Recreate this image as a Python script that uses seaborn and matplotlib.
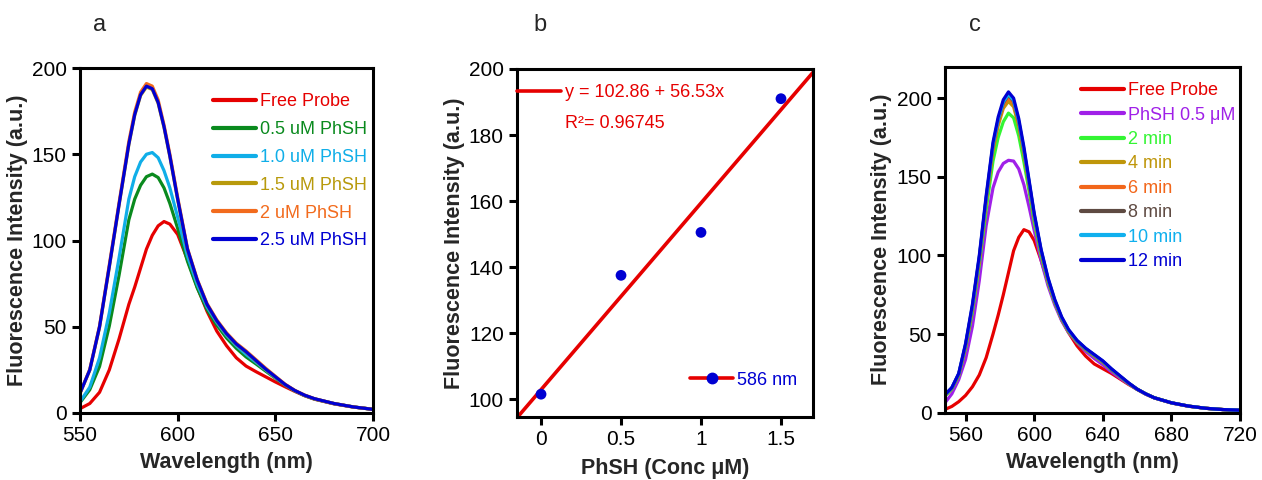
import matplotlib
matplotlib.use("Agg")
import matplotlib.pyplot as plt
import numpy as np
import pandas as pd
import seaborn as sns
from matplotlib.lines import Line2D
from matplotlib.legend_handler import HandlerTuple

# ---------------- data ----------------
# (a) emission spectra vs. PhSH concentration
wl_a = [550, 555, 560, 565, 570, 575, 578, 581, 584, 587, 590, 593, 596, 600, 605,
        610, 615, 620, 625, 630, 635, 640, 645, 650, 655, 660, 665, 670, 680, 690, 700]
free_a = [2.5, 5.5, 12, 25, 43, 63, 73, 84, 95, 103, 108.5, 111, 109.5, 103.5, 89,
          73, 59, 47.5, 39, 32, 27.2, 24, 21, 18, 15.2, 12.5, 10, 8, 5.3, 3.4, 2.2]
c05_a = [6, 13.5, 27, 50.5, 80, 112, 124, 132, 137, 138.5, 136.5, 130.5, 121.5, 107, 88,
         72.5, 60, 51, 43.5, 37.5, 32.5, 28.5, 24.3, 20.2, 16.2, 12.8, 10.1, 8.1, 5.4, 3.5, 2.1]
c10_a = [6.5, 15, 32, 58, 90, 124, 137, 145.5, 150, 151, 148, 140.5, 130.5, 113.5, 91,
         74.5, 61.5, 52.5, 45, 39, 34, 29.5, 25, 20.5, 16.3, 12.9, 10.2, 8.2, 5.5, 3.5, 2.1]
c15_a = [11.4, 24.8, 49.6, 84.5, 120.5, 155.5, 172.5, 184, 189, 187.5, 179.5, 165.5, 148.5, 123.5, 94.5,
         76.8, 62.8, 53.3, 45.8, 39.8, 35.3, 30.3, 25.3, 20.8, 16.4, 12.9, 10.2, 8.2, 5.5, 3.5, 2.1]
c20_a = [11.6, 25.3, 50.5, 86, 122, 157.5, 174.5, 186, 191, 189.5, 181.5, 167, 150, 125, 95.5,
         77.5, 63.5, 54, 46.5, 40.5, 36, 31, 26, 21.3, 16.7, 13.1, 10.4, 8.3, 5.5, 3.5, 2.1]
c25_a = [11.5, 25, 50, 85, 121, 156, 173, 184.5, 189.5, 188, 180, 166, 149, 124, 95,
         77, 63, 53.5, 46, 40, 35.5, 30.5, 25.5, 21, 16.5, 13, 10.3, 8.3, 5.5, 3.5, 2.1]
labels_a = ["Free Probe", "0.5 uM PhSH", "1.0 uM PhSH", "1.5 uM PhSH", "2 uM PhSH", "2.5 uM PhSH"]
colors_a = ["#e60000", "#0a8a1e", "#10aee8", "#b89a0c", "#f26b1d", "#0000d2"]

# (b) intensity at 586 nm vs. PhSH concentration, with linear fit
conc_b = [0, 0.5, 1.0, 1.5]
inten_b = [101.5, 137.5, 150.5, 191.0]
fit_intercept = 102.86
fit_slope = 56.53
fit_r2 = 0.96745

# (c) emission spectra vs. time after 0.5 uM PhSH
wl_c = [548, 552, 556, 560, 564, 568, 572, 576, 579, 582, 585, 588, 591, 594, 597, 600,
        604, 608, 612, 616, 620, 625, 630, 635, 640, 645, 650, 655, 660, 665, 670, 680,
        690, 700, 710, 720]
free_c = [2.1, 4, 7, 11, 16.5, 24, 35, 50, 62, 75, 89, 103, 111.5, 116.4, 115, 109.5,
          97, 83, 70, 59, 51, 42.5, 36, 31, 28, 25, 21.5, 18, 14.8, 11.8, 9.4, 6.2,
          4.1, 2.8, 2.0, 1.6]
phsh_c = [6.3, 12, 21, 34, 55, 84, 119, 143, 153, 158.5, 160.5, 160, 155, 145, 131, 116,
          97, 81, 68.5, 58.5, 51, 44.5, 39, 34.5, 30.5, 26, 22, 18.3, 14.8, 11.8, 9.4, 6.2,
          4.1, 2.8, 2.0, 1.6]
t2_c = [10.5, 15, 23.5, 41, 64, 94, 129, 160, 175, 185, 190.5, 187.5, 176, 159.5, 141, 121,
        100, 83, 70, 59.5, 51.5, 45, 40, 36, 32, 27.2, 22.9, 18.6, 14.9, 12, 9.5, 6.3,
        4.2, 2.8, 2.0, 1.6]
t4_c = [11, 15.3, 24, 42, 66, 96.5, 133.5, 166.5, 182.5, 193.5, 198, 194.5, 182, 164.5, 144.5, 124,
        102, 84, 70.5, 59.8, 51.8, 45.3, 40.3, 36.3, 32.3, 27.4, 23, 18.7, 15, 12, 9.5, 6.3,
        4.2, 2.8, 2.0, 1.6]
t6_c = [11.1, 15.5, 24.2, 42.5, 67, 97.5, 135, 168.5, 184.5, 195.5, 200.5, 196.5, 184, 166, 145.5, 125,
        102.5, 84.5, 70.8, 60, 52, 45.5, 40.5, 36.5, 32.5, 27.5, 23.1, 18.8, 15, 12, 9.5, 6.3,
        4.2, 2.8, 2.0, 1.6]
t8_c = [11.2, 15.7, 24.5, 43, 67.5, 98.5, 136, 170, 186, 197, 202, 198, 185, 167, 146.5, 125.5,
        103, 85, 71, 60.3, 52.3, 45.6, 40.6, 36.6, 32.6, 27.6, 23.2, 18.8, 15, 12, 9.5, 6.3,
        4.2, 2.8, 2.0, 1.6]
t10_c = [11.3, 15.8, 24.7, 43.5, 68, 99, 136.5, 170.5, 186.5, 197.5, 202.5, 198.5, 185.5, 167.5, 147, 126,
         103.5, 85.5, 71.5, 60.5, 52.5, 45.8, 40.8, 36.8, 32.8, 27.8, 23.3, 18.9, 15, 12, 9.5, 6.3,
         4.2, 2.8, 2.0, 1.6]
t12_c = [11.5, 16, 25, 44, 69, 100, 138, 172, 188, 199, 204, 200, 187, 169, 148, 127,
         104, 86, 72, 61, 53, 46, 41, 37, 33, 28, 23.5, 19, 15, 12, 9.5, 6.3,
         4.2, 2.8, 2.0, 1.6]
labels_c = ["Free Probe", "PhSH 0.5 \u03bcM", "2 min", "4 min", "6 min", "8 min", "10 min", "12 min"]
colors_c = ["#e60000", "#a020e8", "#33f533", "#bf960a", "#f2661a", "#5e4a42", "#10b0ee", "#0000d2"]

# ---------------- style ----------------
sns.set_theme(style="ticks")
plt.rcParams["font.family"] = ["Liberation Sans", "DejaVu Sans"]
plt.rcParams["axes.linewidth"] = 2.2

TICK_FS = 15
LABEL_FS = 15.5
LEG_FS = 13
LW = 2.3


def long_frame(x, series, labels):
    rows = []
    for vals, lab in zip(series, labels):
        rows.append(pd.DataFrame({"x": x, "y": vals, "series": lab}))
    return pd.concat(rows, ignore_index=True)


def style_axes(ax):
    ax.tick_params(direction="out", length=5.5, width=2.2, labelsize=TICK_FS,
                   colors="black", pad=4)
    for s in ax.spines.values():
        s.set_color("black")
        s.set_linewidth(2.2)


fig = plt.figure(figsize=(12.62, 4.8), dpi=100)
ax_a = fig.add_axes([0.0634, 0.1396, 0.2322, 0.7187])
ax_b = fig.add_axes([0.4097, 0.1313, 0.2345, 0.7250])
ax_c = fig.add_axes([0.7488, 0.1402, 0.2338, 0.7208])

# ---------------- panel a ----------------
df_a = long_frame(wl_a, [free_a, c05_a, c10_a, c15_a, c20_a, c25_a], labels_a)
sns.lineplot(data=df_a, x="x", y="y", hue="series", hue_order=labels_a,
             palette=dict(zip(labels_a, colors_a)), sort=False, linewidth=LW,
             ax=ax_a, legend=True)
ax_a.set_xlim(550, 700)
ax_a.set_ylim(0, 200)
ax_a.set_xticks([550, 600, 650, 700])
ax_a.set_yticks([0, 50, 100, 150, 200])
ax_a.set_xlabel("Wavelength (nm)", fontsize=LABEL_FS, fontweight="bold", labelpad=5)
ax_a.set_ylabel("Fluorescence Intensity (a.u.)", fontsize=LABEL_FS, fontweight="bold", labelpad=3)
style_axes(ax_a)
leg = ax_a.legend(loc="upper right", bbox_to_anchor=(1.003, 0.948), frameon=False,
                  fontsize=LEG_FS, handlelength=2.4, handletextpad=0.2,
                  labelspacing=0.6, borderaxespad=0, labelcolor="linecolor")
for h in leg.get_lines():
    h.set_linewidth(3)

# ---------------- panel b ----------------
xs_fit = [-0.15, 1.7]
ys_fit = [fit_intercept + fit_slope * v for v in xs_fit]
sns.lineplot(x=xs_fit, y=ys_fit, color="#e60000", linewidth=2.6, ax=ax_b)
sns.scatterplot(x=conc_b, y=inten_b, color="#0000d2", s=60, edgecolor="none",
                ax=ax_b, zorder=3)
ax_b.set_xlim(-0.15, 1.7)
ax_b.set_ylim(94.6, 200)
ax_b.set_xticks([0, 0.5, 1, 1.5])
ax_b.set_xticklabels(["0", "0.5", "1", "1.5"])
ax_b.set_yticks([100, 120, 140, 160, 180, 200])
ax_b.set_xlabel("PhSH (Conc \u03bcM)", fontsize=LABEL_FS, fontweight="bold", labelpad=6.5)
ax_b.set_ylabel("Fluorescence Intensity (a.u.)", fontsize=LABEL_FS, fontweight="bold", labelpad=3)
style_axes(ax_b)

fit_handle = Line2D([], [], color="#e60000", linewidth=2.6)
eq_leg = ax_b.legend([fit_handle], [f"y = {fit_intercept:.2f} + {fit_slope:.2f}x"],
                     loc="center left", bbox_to_anchor=(0.0, 0.931), frameon=False,
                     fontsize=LEG_FS, handlelength=2.45, handletextpad=0.2,
                     borderpad=0, borderaxespad=0, labelcolor="#e60000")
ax_b.add_artist(eq_leg)
ax_b.text(0.162, 0.842, f"R\u00b2= {fit_r2:.5f}", transform=ax_b.transAxes,
          fontsize=LEG_FS, color="#e60000", va="center", ha="left")
pt_handle = (Line2D([], [], color="#e60000", linewidth=2.6),
             Line2D([], [], color="#0000d2", marker="o", markersize=7.5, linestyle="none"))
ax_b.legend([pt_handle], ["586 nm"], handler_map={tuple: HandlerTuple(ndivide=1)},
            loc="center left", bbox_to_anchor=(0.584, 0.106), frameon=False,
            fontsize=LEG_FS, handlelength=2.4, handletextpad=0.2, numpoints=1,
            borderpad=0, borderaxespad=0, labelcolor="#0000d2")

# ---------------- panel c ----------------
df_c = long_frame(wl_c, [free_c, phsh_c, t2_c, t4_c, t6_c, t8_c, t10_c, t12_c], labels_c)
sns.lineplot(data=df_c, x="x", y="y", hue="series", hue_order=labels_c,
             palette=dict(zip(labels_c, colors_c)), sort=False, linewidth=LW,
             ax=ax_c, legend=True)
ax_c.set_xlim(548, 720)
ax_c.set_ylim(0, 220)
ax_c.set_xticks([560, 600, 640, 680, 720])
ax_c.set_yticks([0, 50, 100, 150, 200])
ax_c.set_xlabel("Wavelength (nm)", fontsize=LABEL_FS, fontweight="bold", labelpad=5)
ax_c.set_ylabel("Fluorescence Intensity (a.u.)", fontsize=LABEL_FS, fontweight="bold", labelpad=3)
style_axes(ax_c)
leg_c = ax_c.legend(loc="upper right", bbox_to_anchor=(1.008, 0.976), frameon=False,
                    fontsize=LEG_FS, handlelength=2.4, handletextpad=0.2,
                    labelspacing=0.41, borderaxespad=0, labelcolor="linecolor")
for h in leg_c.get_lines():
    h.set_linewidth(3)

# panel letters
for lx, letter in [(100, "a"), (540, "b"), (975, "c")]:
    fig.text(lx / 1262, 1 - 25 / 480, letter, fontsize=17, ha="center", va="center")

fig.savefig("out.png", dpi=100)
